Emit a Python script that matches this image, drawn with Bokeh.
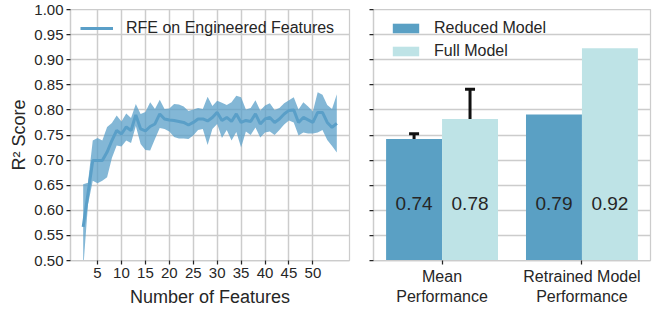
from bokeh.plotting import figure
from bokeh.layouts import row
from bokeh.models import (ColumnDataSource, Range1d, FixedTicker, Legend, LegendItem,
                          Whisker, TeeHead, NumeralTickFormatter)
from bokeh.embed import file_html
from bokeh.resources import INLINE
from bokeh.core.properties import value

# ---------------- data ----------------
n_features = list(range(2, 56))
rfe_mean = [0.567, 0.633, 0.699, 0.699, 0.699, 0.716, 0.739, 0.759, 0.752, 0.766,
            0.759, 0.790, 0.762, 0.758, 0.767, 0.772, 0.792, 0.782, 0.780, 0.779,
            0.777, 0.775, 0.770, 0.775, 0.782, 0.782, 0.778, 0.785, 0.795, 0.779,
            0.785, 0.777, 0.792, 0.775, 0.779, 0.777, 0.792, 0.772, 0.782, 0.785,
            0.775, 0.782, 0.792, 0.799, 0.800, 0.775, 0.785, 0.780, 0.775, 0.795,
            0.795, 0.775, 0.765, 0.773]
rfe_std = [0.085, 0.022, 0.040, 0.045, 0.040, 0.050, 0.035, 0.030, 0.025, 0.027,
           0.025, 0.022, 0.030, 0.038, 0.048, 0.030, 0.028, 0.020, 0.023, 0.033,
           0.034, 0.032, 0.028, 0.026, 0.022, 0.020, 0.048, 0.023, 0.023, 0.035,
           0.025, 0.038, 0.036, 0.050, 0.022, 0.027, 0.027, 0.027, 0.027, 0.028,
           0.025, 0.022, 0.021, 0.020, 0.025, 0.026, 0.030, 0.027, 0.022, 0.040,
           0.035, 0.035, 0.037, 0.058]
x_ticks = [5, 10, 15, 20, 25, 30, 35, 40, 45, 50]
y_ticks = [0.50, 0.55, 0.60, 0.65, 0.70, 0.75, 0.80, 0.85, 0.90, 0.95, 1.00]

group_labels = ["Mean\nPerformance", "Retrained Model\nPerformance"]
group_pos = [0, 1]
reduced_scores = [0.742, 0.791]
full_scores = [0.782, 0.923]
err_pos_reduced = [0]          # only the mean group has error bars
err_reduced = [0.0105]
err_full = [0.059]

# ---------------- style ----------------
FONT = "Liberation Sans"
TXT = "#262626"
GRID = "#cccccc"
LINE_C = "#5a9fc8"
RED_C = "#5aa0c4"
FULL_C = "#bee3e6"
H = 310


def style(p):
    p.background_fill_color = "white"
    p.border_fill_color = "white"
    p.outline_line_color = GRID
    p.outline_line_width = 1.25
    p.grid.grid_line_color = GRID
    p.grid.grid_line_width = 1.5
    for ax in (p.xaxis[0], p.yaxis[0]):
        ax.axis_line_color = GRID
        ax.axis_line_width = 1.25
        ax.major_tick_line_color = TXT
        ax.major_tick_line_width = 1.25
        ax.major_tick_out = 4
        ax.major_tick_in = 0
        ax.minor_tick_line_color = None
        ax.major_label_text_font = FONT
        ax.major_label_text_font_size = "15px"
        ax.major_label_text_color = TXT
        ax.major_label_standoff = 3
        ax.axis_label_text_font = FONT
        ax.axis_label_text_font_size = "18px"
        ax.axis_label_text_font_style = "normal"
        ax.axis_label_text_color = TXT
        ax.axis_label_standoff = 2


# ---------------- left: RFE curve ----------------
p1 = figure(width=362, height=H, output_backend="svg", toolbar_location=None,
            x_range=Range1d(-0.65, 57.65), y_range=Range1d(0.5, 1.0),
            min_border_left=70, min_border_right=13, min_border_top=9,
            min_border_bottom=H - 260)
style(p1)
p1.xaxis.axis_label_standoff = 6
src = ColumnDataSource(dict(
    x=n_features, m=rfe_mean,
    lo=[m - s for m, s in zip(rfe_mean, rfe_std)],
    hi=[m + s for m, s in zip(rfe_mean, rfe_std)]))
p1.varea(x="x", y1="lo", y2="hi", source=src, fill_color=LINE_C, fill_alpha=0.75)
ln = p1.line(x="x", y="m", source=src, line_color=LINE_C, line_width=3)
p1.xaxis.ticker = FixedTicker(ticks=x_ticks)
p1.yaxis.ticker = FixedTicker(ticks=y_ticks)
p1.yaxis.formatter = NumeralTickFormatter(format="0.00")
p1.xaxis.axis_label = "Number of Features"
p1.yaxis.axis_label = "R² Score"
leg1 = Legend(items=[LegendItem(label="RFE on Engineered Features", renderers=[ln])],
              location=(10, 222), margin=0, padding=0, border_line_color=None,
              background_fill_alpha=0, glyph_width=33, glyph_height=12, label_height=20,
              label_standoff=13, label_text_font=FONT, label_text_font_size="16px",
              label_text_color=TXT)
p1.add_layout(leg1)

# ---------------- right: bars ----------------
p2 = figure(width=291, height=H, output_backend="svg", toolbar_location=None,
            x_range=Range1d(-0.49, 1.49), y_range=Range1d(0.5, 1.0),
            min_border_left=11, min_border_right=3, min_border_top=9,
            min_border_bottom=H - 260)
style(p2)
p2.xgrid.grid_line_color = None
bsrc = ColumnDataSource(dict(
    xr=[g - 0.2 for g in group_pos], xf=[g + 0.2 for g in group_pos],
    red=reduced_scores, full=full_scores,
    tr=["%.2f" % v for v in reduced_scores], tf=["%.2f" % v for v in full_scores],
    ly=[0.6 for _ in group_pos]))
b1 = p2.vbar(x="xr", top="red", width=0.4, bottom=0, source=bsrc,
             fill_color=RED_C, line_color=None)
b2 = p2.vbar(x="xf", top="full", width=0.4, bottom=0, source=bsrc,
             fill_color=FULL_C, line_color=None)
p2.text(x="xr", y="ly", text="tr", source=bsrc, text_align="center", text_baseline="bottom",
        text_font=value(FONT), text_font_size="19px", text_color=TXT)
p2.text(x="xf", y="ly", text="tf", source=bsrc, text_align="center", text_baseline="bottom",
        text_font=value(FONT), text_font_size="19px", text_color=TXT)

esrc = ColumnDataSource(dict(
    x=[g - 0.2 for g in err_pos_reduced] + [g + 0.2 for g in err_pos_reduced],
    lower=[reduced_scores[0] - err_reduced[0], full_scores[0] - err_full[0]],
    upper=[reduced_scores[0] + err_reduced[0], full_scores[0] + err_full[0]]))
p2.add_layout(Whisker(source=esrc, base="x", lower="lower", upper="upper",
                      dimension="height", line_color="#111111", line_width=3,
                      upper_head=TeeHead(size=10, line_width=3, line_color="#111111"),
                      lower_head=TeeHead(size=10, line_width=3, line_color="#111111")))

p2.xaxis.ticker = FixedTicker(ticks=group_pos)
p2.xaxis.major_label_overrides = {g: lab for g, lab in zip(group_pos, group_labels)}
p2.xaxis.major_label_text_font_size = "16px"
p2.yaxis.ticker = FixedTicker(ticks=y_ticks)
p2.yaxis.major_label_overrides = {t: "" for t in y_ticks}
p2.yaxis.major_label_standoff = 0
leg2 = Legend(items=[LegendItem(label="Reduced Model", renderers=[b1]),
                     LegendItem(label="Full Model", renderers=[b2])],
              location=(16, 199), margin=0, padding=0, border_line_color=None,
              background_fill_alpha=0, glyph_width=33, glyph_height=12, label_height=20,
              spacing=3, label_standoff=12, label_text_font=FONT,
              label_text_font_size="16px", label_text_color=TXT)
p2.add_layout(leg2)

layout = row(p1, p2)
open("out.html", "w").write(file_html(layout, INLINE))
